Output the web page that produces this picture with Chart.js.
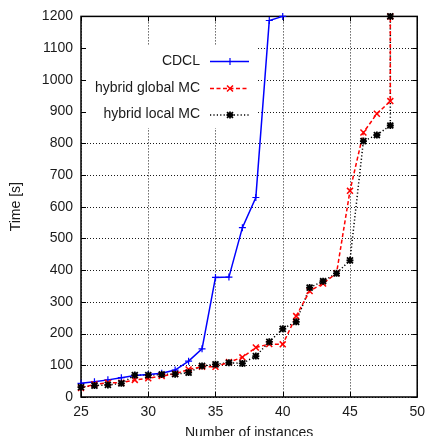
<!DOCTYPE html>
<html>
<head>
<meta charset="utf-8">
<script src="https://cdn.jsdelivr.net/npm/chart.js@4/dist/chart.umd.min.js"></script>
<style>
html,body{margin:0;padding:0;background:#fff;}
canvas{display:block;}
</style>
</head>
<body>
<canvas id="c" width="432" height="436"></canvas>
<script>
// ---- data ----
const cdclX = [25,26,27,28,29,30,31,32,33,34,35,36,37,38,39,40];
const cdclY = [43,48,54,61,68,71,75,85,113,152,377,378,534,629,1187,1200];

const hybridX = [25,26,27,28,29,30,31,32,33,34,35,36,37,38,39,40,41,42,43,44,45,46,47,48,48];
const globalY = [28,40,45,45,54,59,66,73,87,95,95,110,125,156,167,166,255,334,358,390,650,834,893,933,1200];
const localY  = [31,36,38,43,69,69,71,72,77,98,103,108,106,129,174,215,237,345,365,390,431,807,826,856,1200];

const seriesNames = ["CDCL","hybrid global MC","hybrid local MC"];
const xTicks = [25,30,35,40,45,50];
const yTicks = [0,100,200,300,400,500,600,700,800,900,1000,1100,1200];

const FONT = "'Liberation Sans', Arial, sans-serif";
const TXT = "#1a1a1a";

function pts(xs, ys){ return xs.map((x,i)=>({x:x, y:ys[i]})); }

const styles = [
  {color:"#0000ff", dash:[], marker:"plus", radius:3.5, bw:1.2, lw:1.5},
  {color:"#ff0000", dash:[4,2.5], marker:"x", radius:3.5, bw:1.5, lw:1.5},
  {color:"#000000", dash:[1.2,2.2], marker:"star", radius:3.5, bw:1.8, lw:1.5}
];

function drawMarker(ctx, type, x, y, r){
  ctx.beginPath();
  if(type==="plus"||type==="star"){
    ctx.moveTo(x-r,y); ctx.lineTo(x+r,y);
    ctx.moveTo(x,y-r); ctx.lineTo(x,y+r);
  }
  if(type==="x"||type==="star"){
    const d = r*0.85;
    ctx.moveTo(x-d,y-d); ctx.lineTo(x+d,y+d);
    ctx.moveTo(x-d,y+d); ctx.lineTo(x+d,y-d);
  }
  ctx.stroke();
}

const framePlugin = {
  id:"frame",
  beforeDatasetsDraw(chart){
    const ctx = chart.ctx, a = chart.chartArea;
    const xs = chart.scales.x, ys = chart.scales.y;
    ctx.save();
    // dotted grid
    ctx.strokeStyle = "rgba(0,0,0,0.9)";
    ctx.lineWidth = 1;
    ctx.setLineDash([1,2]);
    ctx.beginPath();
    yTicks.forEach(v=>{
      const py = Math.round(ys.getPixelForValue(v))+0.5;
      ctx.moveTo(a.left, py); ctx.lineTo(a.right, py);
    });
    xTicks.forEach(v=>{
      const px = Math.round(xs.getPixelForValue(v))+0.5;
      ctx.moveTo(px, a.top); ctx.lineTo(px, a.bottom);
    });
    ctx.stroke();
    ctx.setLineDash([]);
    // legend box (hides grid behind it)
    ctx.fillStyle = "#fff";
    ctx.fillRect(a.left+1, 45, 258-(a.left+1), 83);
    // border
    ctx.strokeStyle = "#000";
    ctx.lineWidth = 1.5;
    ctx.strokeRect(a.left, a.top, a.right-a.left, a.bottom-a.top);
    // inward ticks on all sides
    ctx.lineWidth = 1;
    const tl = 5;
    ctx.beginPath();
    yTicks.forEach(v=>{
      const py = Math.round(ys.getPixelForValue(v))+0.5;
      ctx.moveTo(a.left, py); ctx.lineTo(a.left+tl, py);
      ctx.moveTo(a.right, py); ctx.lineTo(a.right-tl, py);
    });
    xTicks.forEach(v=>{
      const px = Math.round(xs.getPixelForValue(v))+0.5;
      ctx.moveTo(px, a.bottom); ctx.lineTo(px, a.bottom-tl);
      ctx.moveTo(px, a.top); ctx.lineTo(px, a.top+tl);
    });
    ctx.stroke();
    // legend entries
    ctx.font = "14px " + FONT;
    ctx.textAlign = "right";
    ctx.textBaseline = "middle";
    const rowsY = [61, 88, 114.5];
    seriesNames.forEach((name,i)=>{
      const s = styles[i];
      const y = rowsY[i];
      ctx.fillStyle = TXT;
      ctx.fillText(name, 200, y);
      ctx.strokeStyle = s.color;
      ctx.lineWidth = s.lw;
      ctx.setLineDash(s.dash);
      ctx.beginPath(); ctx.moveTo(210, y+0.5); ctx.lineTo(249, y+0.5); ctx.stroke();
      ctx.setLineDash([]);
      ctx.lineWidth = s.bw;
      drawMarker(ctx, s.marker, 230, y+0.5, s.radius);
    });
    ctx.restore();
  },
  afterDatasetsDraw(chart){
    // point markers at the positions the library computed
    const ctx = chart.ctx;
    ctx.save();
    ctx.setLineDash([]);
    chart.data.datasets.forEach((ds,i)=>{
      const s = styles[i];
      ctx.strokeStyle = s.color;
      ctx.lineWidth = s.bw;
      chart.getDatasetMeta(i).data.forEach(el=>{
        drawMarker(ctx, s.marker, el.x, el.y, s.radius);
      });
    });
    ctx.restore();
  }
};

const datasets = [
  pts(cdclX, cdclY), pts(hybridX, globalY), pts(hybridX, localY)
].map((d,i)=>({
  label: seriesNames[i],
  data: d,
  borderColor: styles[i].color,
  backgroundColor: styles[i].color,
  borderWidth: styles[i].lw,
  borderDash: styles[i].dash,
  pointRadius: 0,
  pointHoverRadius: 0,
  tension: 0,
  fill: false,
  clip: false
}));

new Chart(document.getElementById("c"), {
  type: "line",
  data: { datasets },
  options: {
    responsive: false,
    animation: false,
    devicePixelRatio: 1,
    layout: { padding: { left: 0, top: 16, right: 11, bottom: 0 } },
    plugins: { legend: { display: false }, tooltip: { enabled: false } },
    scales: {
      x: {
        type: "linear",
        min: 25, max: 50,
        afterBuildTicks(s){ s.ticks = xTicks.map(v=>({value:v})); },
        afterFit(s){ s.height = 39; },
        grid: { display: false, drawTicks: false },
        border: { display: false },
        ticks: { color: TXT, font: { family: FONT, size: 14 }, padding: 7, maxRotation: 0,
                 callback: v => String(v) },
        title: { display: true, text: "Number of instances", color: TXT,
                 font: { family: FONT, size: 14 }, padding: { top: 0, bottom: -6 } }
      },
      y: {
        type: "linear",
        min: 0, max: 1200,
        afterBuildTicks(s){ s.ticks = yTicks.map(v=>({value:v})); },
        afterFit(s){ s.width = 81; },
        grid: { display: false, drawTicks: false },
        border: { display: false },
        ticks: { color: TXT, font: { family: FONT, size: 14 }, padding: 8,
                 callback: v => String(v) },
        title: { display: true, text: "Time [s]", color: TXT,
                 font: { family: FONT, size: 14 }, padding: { top: 8, bottom: 0 } }
      }
    }
  },
  plugins: [framePlugin]
});
</script>
</body>
</html>
